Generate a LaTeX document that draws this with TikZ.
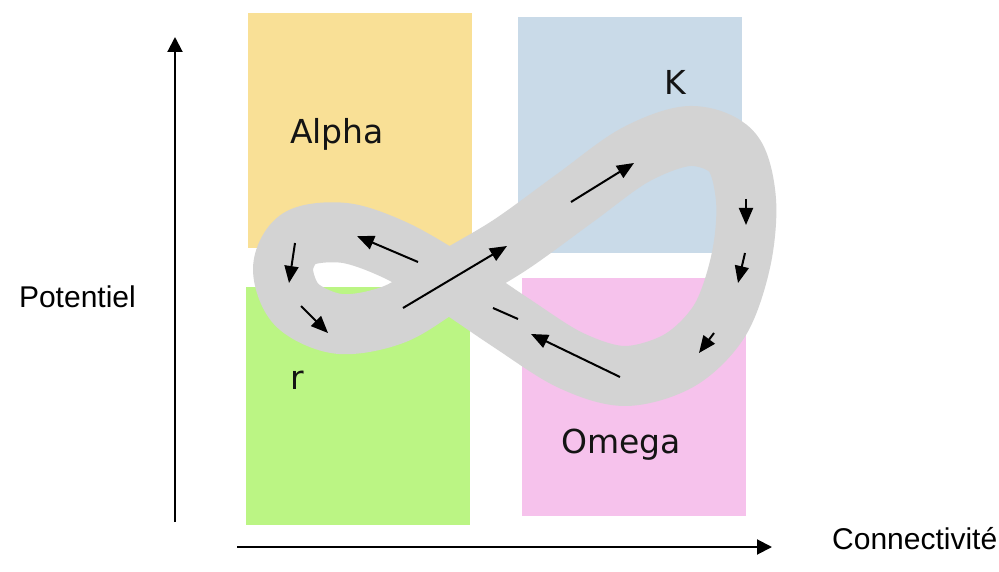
\documentclass[tikz,border=0pt]{standalone}
\usepackage{fontspec}
\setmainfont{Liberation Sans}
\newfontfamily\boxfont{DejaVu Sans}
\usetikzlibrary{arrows.meta}
\definecolor{cyellow}{RGB}{249,224,150}
\definecolor{cblue}{RGB}{201,218,232}
\definecolor{cgreen}{RGB}{187,245,132}
\definecolor{cpink}{RGB}{246,194,236}
\definecolor{cband}{RGB}{211,211,211}
\definecolor{ctext}{RGB}{20,20,20}
\begin{document}
\begin{tikzpicture}[x=1pt,y=-1pt,
  flow/.style={line width=2pt,-{Triangle[length=17pt,width=14pt]}},
  band/.style={line width=60pt,cband,line join=round},
  boxlabel/.style={font=\boxfont\fontsize{33}{36}\selectfont,text=ctext,inner sep=0pt,anchor=base west},
  axislabel/.style={font=\fontsize{30}{34}\selectfont,text=black,inner sep=0pt},
  axis/.style={line width=2pt,-{Triangle[length=15pt,width=15pt]}}]
\useasboundingbox (0,0) rectangle (999,572);
\fill[white] (0,0) rectangle (999,572);
% coloured boxes
\fill[cyellow] (248,13) rectangle (472,248);
\fill[cblue] (518,17) rectangle (742,253);
\fill[cgreen] (246,287) rectangle (470,525);
\fill[cpink] (522,278) rectangle (746,516);
% figure-eight band
\draw[band] plot[smooth cycle,tension=0.55] coordinates {
  (449,281) (510,245) (575,198) (635,155) (690,136) (732,152) (746,200)
  (741,260) (720,320) (680,360) (625,376) (570,360) (510,322)
  (449,281) (395,250) (345,233) (300,238) (283,268) (297,305)
  (340,324) (395,314)};
% flow arrows
\coordinate (a1s) at (295,243); \coordinate (a1e) at (289,283);
\coordinate (a2s) at (301,306); \coordinate (a2e) at (328,333);
\coordinate (a3s) at (418,262); \coordinate (a3e) at (357,236);
\coordinate (a4s) at (403,308); \coordinate (a4e) at (507,246);
\coordinate (a5s) at (571,202); \coordinate (a5e) at (634,163);
\coordinate (a6s) at (746,199); \coordinate (a6e) at (746,225);
\coordinate (a7s) at (745,253); \coordinate (a7e) at (738,283);
\coordinate (a8s) at (714,333); \coordinate (a8e) at (699,353);
\coordinate (a9s) at (620,377); \coordinate (a9e) at (531,334);
\coordinate (ds) at (493,308); \coordinate (de) at (518,319);
\foreach \i in {1,...,9} {\draw[flow] (a\i s) -- (a\i e);}
\draw[line width=2pt] (ds) -- (de);
% labels in boxes
\node[boxlabel] (alpha) at (290,144) {Alpha};
\node[boxlabel] (k) at (664,95) {K};
\node[boxlabel] (r) at (290,389) {r};
\node[boxlabel] (omega) at (561,453) {Omega};
% axes
\coordinate (vy0) at (175,522); \coordinate (vy1) at (175,37);
\coordinate (hx0) at (237,547); \coordinate (hx1) at (772,547);
\draw[axis] (vy0) -- (vy1);
\draw[axis] (hx0) -- (hx1);
\node[axislabel,anchor=mid east] (pot) at (136,305) {Potentiel};
\node[axislabel,anchor=mid west] (con) at (832,547) {Connectivité};
\end{tikzpicture}
\end{document}
